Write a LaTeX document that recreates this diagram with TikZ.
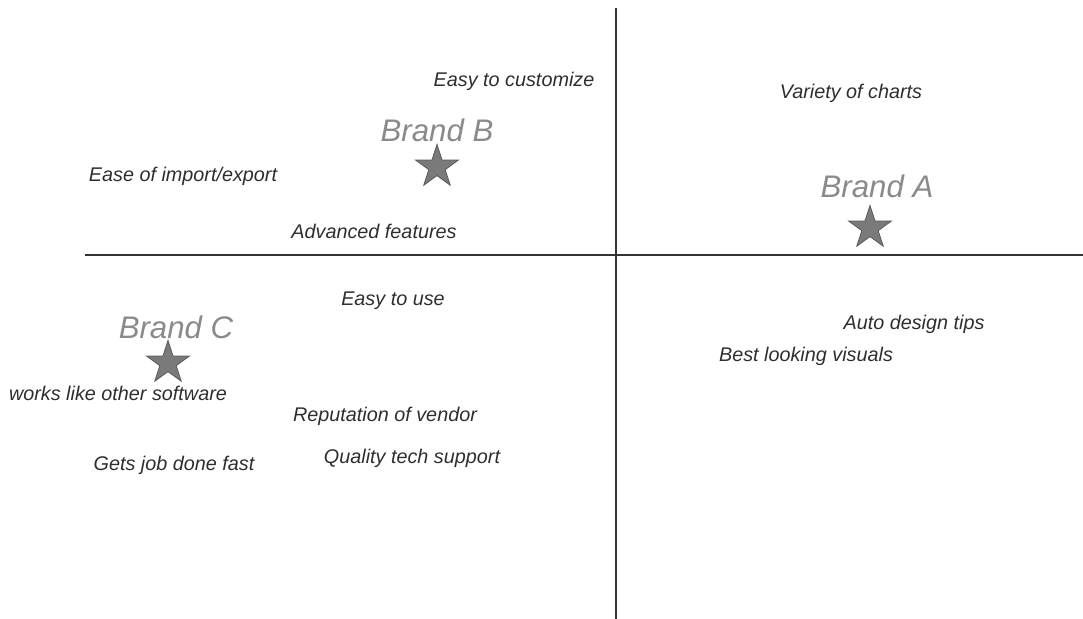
\documentclass[tikz,border=0pt]{standalone}
\usepackage{fontspec}
\setmainfont{Liberation Sans}
\usepackage{tikz}
\usetikzlibrary{positioning,shapes.geometric}
\definecolor{labelgray}{HTML}{2E2E2E}
\definecolor{brandgray}{HTML}{8A8A8A}
\definecolor{stargray}{HTML}{7A7A7A}

\begin{document}
\begin{tikzpicture}[x=0.5pt,y=-0.5pt,
    attr/.style={text=labelgray, font=\fontsize{9.9}{11}\selectfont\itshape, inner sep=0pt},
    brand/.style={text=brandgray, font=\fontsize{15.6}{18}\selectfont\itshape, inner sep=0pt},
    brandstar/.style={star, star points=5, star point ratio=2.618, minimum size=22.5pt, inner sep=0pt, fill=stargray, draw=black!65, line width=0.4pt}]
                    \useasboundingbox (0,0) rectangle (1083,619);
                    % axes
                    \coordinate (top) at (616,8);
                    \coordinate (bottom) at (616,619);
                    \coordinate (left) at (85,255);
                    \coordinate (right) at (1083,255);
                    \draw[line width=1pt, black!80] (top) -- (bottom);
                    \draw[line width=1pt, black!80] (left) -- (right);
                    % brands
                    \node[brand] (brandB) at (437,130) {Brand B};
                    \node[brandstar] (starB) at (437,167) {};
                    \node[brand] (brandA) at (877,186) {Brand A};
                    \node[brandstar] (starA) at (870,228) {};
                    \node[brand] (brandC) at (176,327) {Brand C};
                    \node[brandstar] (starC) at (168,363) {};
                    % attributes
                    \node[attr] (customize) at (514,81) {Easy to customize};
                    \node[attr] (variety) at (851,93) {Variety of charts};
                    \node[attr] (import) at (183,176) {Ease of import/export};
                    \node[attr] (advanced) at (374,231) {Advanced features};
                    \node[attr] (easyuse) at (393,301) {Easy to use};
                    \node[attr] (autotips) at (914,324) {Auto design tips};
                    \node[attr] (visuals) at (806,356) {Best looking visuals};
                    \node[attr] (likeother) at (118,393) {works like other software};
                    \node[attr] (vendor) at (385,416) {Reputation of vendor};
                    \node[attr] (support) at (412,458) {Quality tech support};
                    \node[attr] (fast) at (174,465) {Gets job done fast};
                \end{tikzpicture}
\end{document}
